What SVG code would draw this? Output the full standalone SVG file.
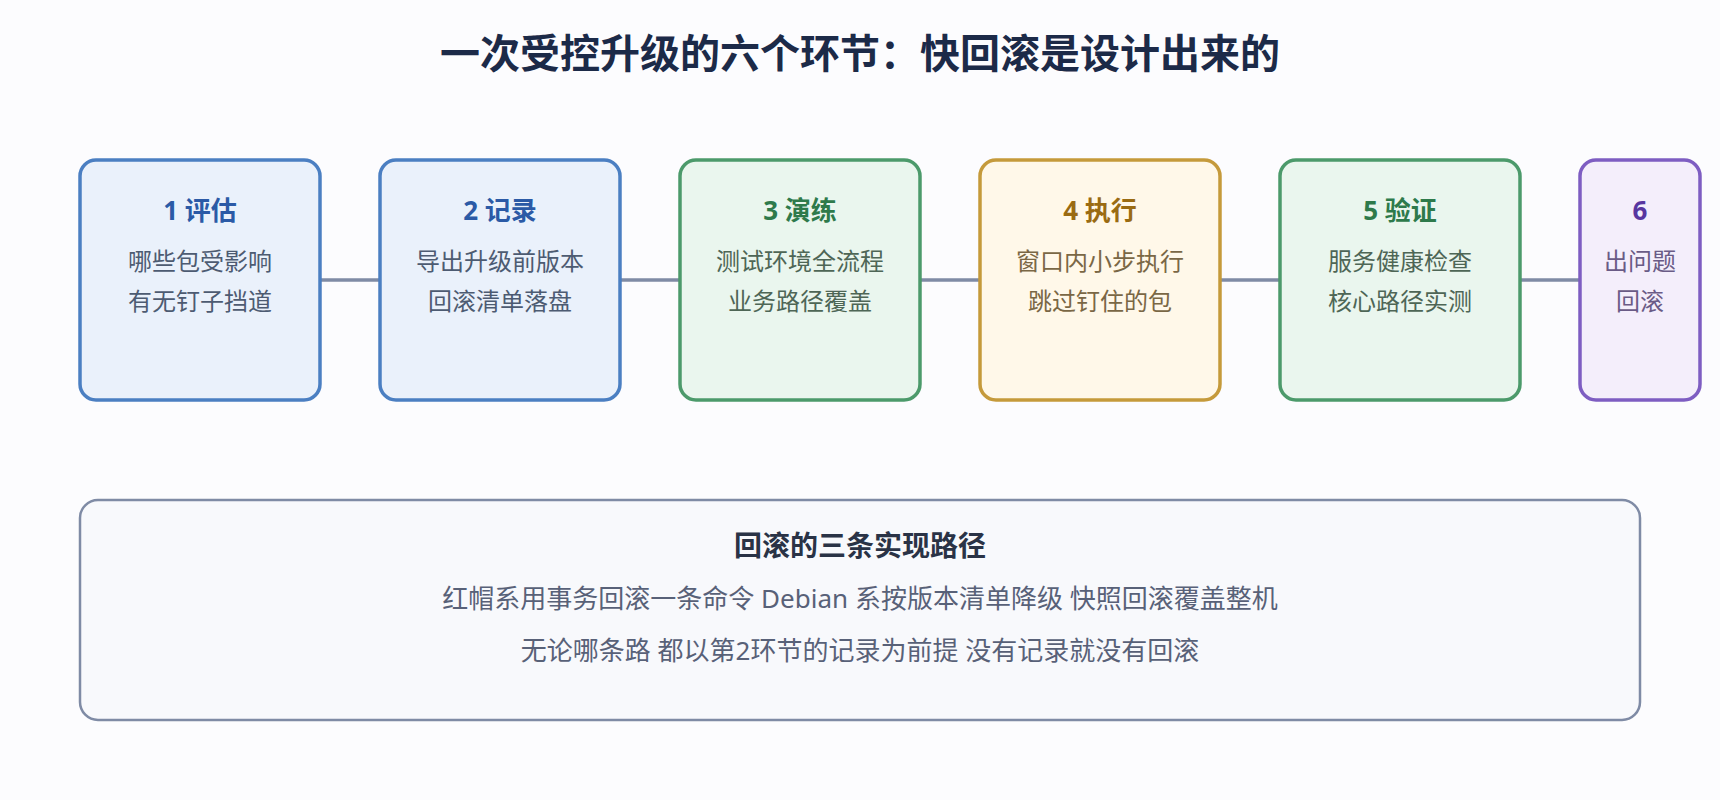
<svg xmlns="http://www.w3.org/2000/svg" width="1720" height="800" viewBox="0 0 1720 800">
<style>
text{font-family:'Noto Sans','Noto Sans CJK SC',sans-serif;text-anchor:middle}
.title{font-size:40px;font-weight:700;fill:#1c2a48}
.nt{font-size:26px;font-weight:700}
.ns{font-size:24px}
.box{stroke-width:3.5}
.blue rect{fill:#eaf1fb;stroke:#4b7fc2}
.blue .nt{fill:#2b5aa6}
.blue .ns{fill:#4d5b72}
.green rect{fill:#eaf6ee;stroke:#4c9a6b}
.green .nt{fill:#2e7a4b}
.green .ns{fill:#4e6656}
.gold rect{fill:#fff8e9;stroke:#c59a3b}
.gold .nt{fill:#9a6b12}
.gold .ns{fill:#7a6745}
.purple rect{fill:#f4eefb;stroke:#7e5dc2}
.purple .nt{fill:#5836a0}
.purple .ns{fill:#6a5b86}
.conn line{stroke:#7f8ba5;stroke-width:3.5}
.sum rect{fill:#f8f9fc;stroke:#7f8ba5;stroke-width:2.5}
.st{font-size:28px;font-weight:700;fill:#2a3346}
.sl{font-size:26px;fill:#586178}
</style>
<rect x="0" y="0" width="1720" height="800" fill="#fcfcfe"/>
<text class="title" x="860" y="68">一次受控升级的六个环节：快回滚是设计出来的</text>
<g class="conn" id="connectors">
<line x1="320" y1="280" x2="380" y2="280"/>
<line x1="620" y1="280" x2="680" y2="280"/>
<line x1="920" y1="280" x2="980" y2="280"/>
<line x1="1220" y1="280" x2="1280" y2="280"/>
<line x1="1520" y1="280" x2="1580" y2="280"/>
</g>
<g id="n1" class="blue">
<rect class="box" x="80" y="160" width="240" height="240" rx="16"/>
<text class="nt" x="200" y="220">1 评估</text>
<text class="ns" x="200" y="270">哪些包受影响</text>
<text class="ns" x="200" y="310">有无钉子挡道</text>
</g>
<g id="n2" class="blue">
<rect class="box" x="380" y="160" width="240" height="240" rx="16"/>
<text class="nt" x="500" y="220">2 记录</text>
<text class="ns" x="500" y="270">导出升级前版本</text>
<text class="ns" x="500" y="310">回滚清单落盘</text>
</g>
<g id="n3" class="green">
<rect class="box" x="680" y="160" width="240" height="240" rx="16"/>
<text class="nt" x="800" y="220">3 演练</text>
<text class="ns" x="800" y="270">测试环境全流程</text>
<text class="ns" x="800" y="310">业务路径覆盖</text>
</g>
<g id="n4" class="gold">
<rect class="box" x="980" y="160" width="240" height="240" rx="16"/>
<text class="nt" x="1100" y="220">4 执行</text>
<text class="ns" x="1100" y="270">窗口内小步执行</text>
<text class="ns" x="1100" y="310">跳过钉住的包</text>
</g>
<g id="n5" class="green">
<rect class="box" x="1280" y="160" width="240" height="240" rx="16"/>
<text class="nt" x="1400" y="220">5 验证</text>
<text class="ns" x="1400" y="270">服务健康检查</text>
<text class="ns" x="1400" y="310">核心路径实测</text>
</g>
<g id="n6" class="purple">
<rect class="box" x="1580" y="160" width="120" height="240" rx="16"/>
<text class="nt" x="1640" y="220">6</text>
<text class="ns" x="1640" y="270">出问题</text>
<text class="ns" x="1640" y="310">回滚</text>
</g>
<g id="summary" class="sum">
<rect x="80" y="500" width="1560" height="220" rx="18"/>
<text class="st" x="860" y="556">回滚的三条实现路径</text>
<text class="sl" x="860" y="608">红帽系用事务回滚一条命令 Debian 系按版本清单降级 快照回滚覆盖整机</text>
<text class="sl" x="860" y="660">无论哪条路 都以第2环节的记录为前提 没有记录就没有回滚</text>
</g>
</svg>
